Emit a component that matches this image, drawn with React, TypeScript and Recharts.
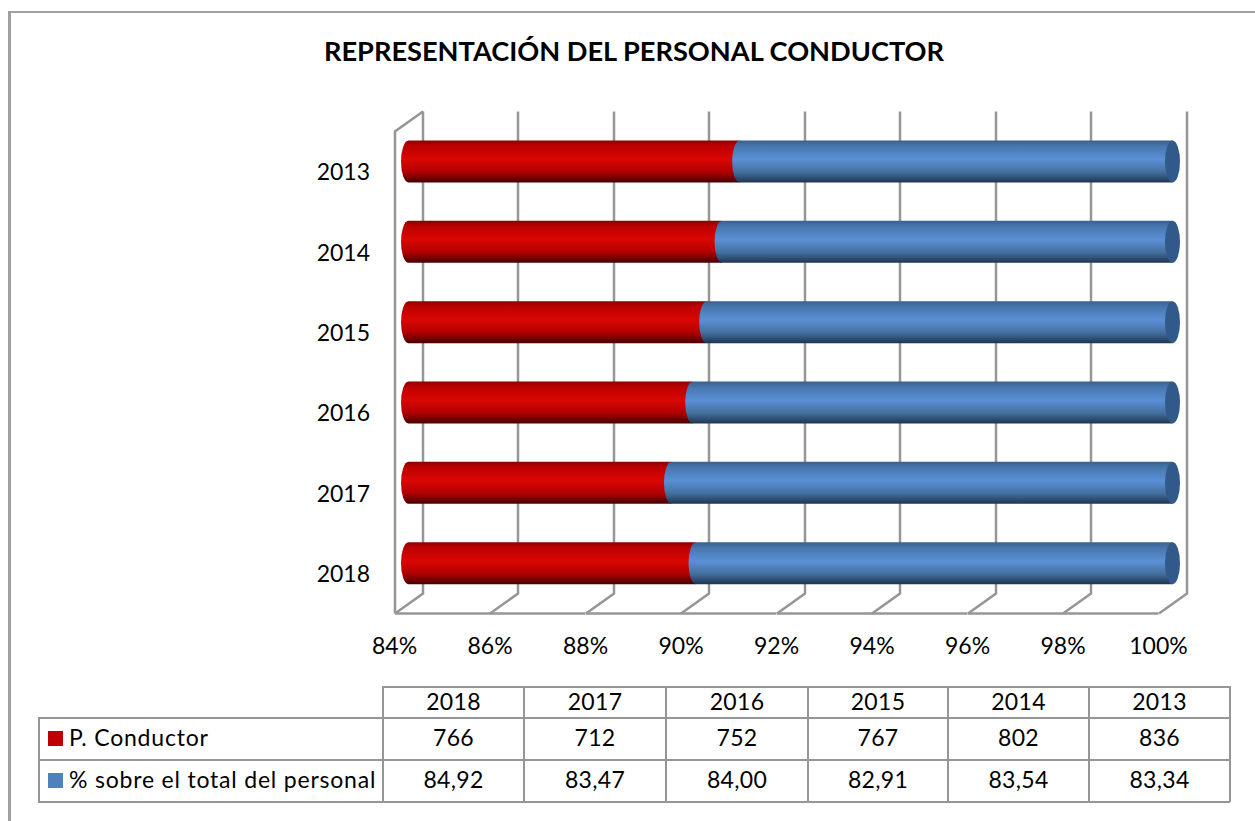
import { BarChart, Bar, XAxis, YAxis, CartesianGrid } from 'recharts'

const years = ['2018', '2017', '2016', '2015', '2014', '2013']
const conductor = [766, 712, 752, 767, 802, 836]
const percent = [84.92, 83.47, 84.0, 82.91, 83.54, 83.34]
const percentLabels = ['84,92', '83,47', '84,00', '82,91', '83,54', '83,34']
const xTicks = [0.84, 0.86, 0.88, 0.9, 0.92, 0.94, 0.96, 0.98, 1]

// the chart stacks both series to 100%, so each value goes in as its share
const data = years.map((year, i) => {
  const total = conductor[i] + percent[i]
  return { year, conductor: conductor[i] / total, percent: percent[i] / total }
})

const FONT = 'Lato, sans-serif'
const GRID = '#969696'
const DEPTH_X = 14
const DEPTH_Y = 10
const CAP = 7.5
const PLOT_LEFT = 400
const PLOT_RIGHT = 1181
const PAD = 8.5
const TICK_STEP = (PLOT_RIGHT - PLOT_LEFT - PAD * 2) / 8
// a little room past 84% and 100% so the cylinder ends are not clipped
const DOMAIN_PAD = (0.16 * PAD) / (PLOT_RIGHT - PLOT_LEFT - PAD * 2)

function GridLine(props: any) {
  const { x1, y1, y2 } = props
  const x = Math.round(x1)
  // the grid also draws the plot edges, which are not ticks here
  if (x < PLOT_LEFT + PAD - 1 || x > PLOT_RIGHT - PAD + 1) return <g key={props.key ?? x} />
  const isFirst = x <= PLOT_LEFT + PAD + 1
  const isLast = x >= PLOT_RIGHT - PAD - 1
  const common = { stroke: GRID, strokeWidth: 2.5, fill: 'none' }
  return (
    <g key={props.key ?? x}>
      {/* back wall line and the diagonal down to the floor */}
      <path d={`M${x + DEPTH_X},${y1 - DEPTH_Y} V${y2 - DEPTH_Y} L${x - DEPTH_X},${y2 + DEPTH_Y}`} {...common} />
      {!isLast && <path d={`M${x - DEPTH_X},${y2 + DEPTH_Y} h${TICK_STEP}`} {...common} />}
      {isFirst && (
        <path d={`M${x - DEPTH_X},${y2 + DEPTH_Y} V${y1 + DEPTH_Y} L${x + DEPTH_X},${y1 - DEPTH_Y}`} {...common} />
      )}
    </g>
  )
}

function XTick({ x, y, payload }: any) {
  return (
    <text x={x - DEPTH_X} y={y + 42} textAnchor="middle" fontFamily={FONT} fontSize={23} fill="#000">
      {Math.round(payload.value * 100)}%
    </text>
  )
}

function YTick({ y, payload }: any) {
  return (
    <text x={370} y={y + 18.5} textAnchor="end" fontFamily={FONT} fontSize={23} fill="#000">
      {payload.value}
    </text>
  )
}

function RedBar({ x, y, width, height }: any) {
  const left = Math.max(x, PLOT_LEFT + PAD)
  const right = x + width
  const ry = height / 2
  return (
    <path
      d={`M${left},${y} H${right} V${y + height} H${left} A${CAP},${ry} 0 0 1 ${left},${y} Z`}
      fill="url(#redCyl)"
    />
  )
}

function BlueBar({ x, y, width, height }: any) {
  const right = x + width
  const ry = height / 2
  return (
    <g>
      <path
        d={`M${x},${y} H${right} V${y + height} H${x} A${CAP},${ry} 0 0 1 ${x},${y} Z`}
        fill="url(#blueCyl)"
      />
      <ellipse cx={right} cy={y + ry} rx={CAP} ry={ry} fill="#315a8a" />
    </g>
  )
}

function DataTable() {
  const colX = [383, 524, 666, 808, 948, 1089, 1230]
  const rowY = [686, 718, 760, 802]
  const line = { position: 'absolute' as const, background: GRID }
  const cell = (left: number, top: number, w: number, h: number, text: string, key: string) => (
    <div
      key={key}
      style={{ position: 'absolute', left, top, width: w, height: h, lineHeight: `${h}px`, textAlign: 'center', fontSize: 23, letterSpacing: 0.3 }}
    >
      {text}
    </div>
  )
  return (
    <>
      {colX.map((x) => (
        <div key={x} style={{ ...line, left: x - 1, top: rowY[0], width: 2, height: rowY[3] - rowY[0] }} />
      ))}
      <div style={{ ...line, left: 38, top: rowY[1], width: 2, height: rowY[3] - rowY[1] }} />
      <div style={{ ...line, left: colX[0], top: rowY[0], width: colX[6] - colX[0], height: 2 }} />
      <div style={{ ...line, left: 38, top: rowY[1] - 1, width: colX[6] - 38, height: 2 }} />
      <div style={{ ...line, left: 38, top: rowY[2] - 1, width: colX[6] - 38, height: 2 }} />
      <div style={{ ...line, left: 38, top: rowY[3] - 1, width: colX[6] - 38, height: 2 }} />
      {years.map((year, i) => cell(colX[i], rowY[0], colX[i + 1] - colX[i], 30, year, `y${i}`))}
      {conductor.map((v, i) => cell(colX[i], rowY[1], colX[i + 1] - colX[i], 38, String(v), `c${i}`))}
      {percentLabels.map((v, i) => cell(colX[i], rowY[2], colX[i + 1] - colX[i], 38, v, `p${i}`))}
      <div style={{ position: 'absolute', left: 48, top: 731, width: 15, height: 15, background: '#c00000' }} />
      <div style={{ position: 'absolute', left: 48, top: 773, width: 15, height: 15, background: '#4f81bd' }} />
      <div style={{ position: 'absolute', left: 69, top: rowY[1], height: 38, lineHeight: '38px', fontSize: 23, letterSpacing: 0.8, whiteSpace: 'nowrap' }}>P. Conductor</div>
      <div style={{ position: 'absolute', left: 69, top: rowY[2], height: 38, lineHeight: '38px', fontSize: 23, letterSpacing: 0.8, whiteSpace: 'nowrap' }}>% sobre el total del personal</div>
    </>
  )
}

export default function App() {
  return (
    <div style={{ position: 'absolute', left: 0, top: 0, width: 1255, height: 821, fontFamily: FONT, color: '#000', background: '#fff', overflow: 'hidden' }}>
      <div style={{ position: 'absolute', left: 8, top: 11, width: 1247, height: 2, background: '#a0a0a0' }} />
      <div style={{ position: 'absolute', left: 8, top: 11, width: 3, height: 810, background: '#a0a0a0' }} />
      <div style={{ position: 'absolute', left: 0, width: 1268, top: 34, textAlign: 'center', fontSize: 27.2, fontWeight: 700 }}>
        REPRESENTACIÓN DEL PERSONAL CONDUCTOR
      </div>
      <div style={{ position: 'absolute', left: 0, top: 0 }}>
        <BarChart
          width={1255}
          height={821}
          data={data}
          layout="vertical"
          barSize={42}
          margin={{ top: 121.5, right: 74, bottom: 157.5, left: 0 }}
        >
          <defs>
            <linearGradient id="redCyl" x1="0" y1="0" x2="0" y2="1">
              <stop offset="0" stopColor="#8a0000" />
              <stop offset="0.12" stopColor="#bb0000" />
              <stop offset="0.45" stopColor="#da0703" />
              <stop offset="0.75" stopColor="#b00000" />
              <stop offset="1" stopColor="#470000" />
            </linearGradient>
            <linearGradient id="blueCyl" x1="0" y1="0" x2="0" y2="1">
              <stop offset="0" stopColor="#3a608e" />
              <stop offset="0.15" stopColor="#4878b0" />
              <stop offset="0.45" stopColor="#5b90d6" />
              <stop offset="0.75" stopColor="#44709f" />
              <stop offset="1" stopColor="#1e3553" />
            </linearGradient>
          </defs>
          <CartesianGrid horizontal={false} vertical={GridLine} />
          <XAxis
            type="number"
            domain={[0.84 - DOMAIN_PAD, 1 + DOMAIN_PAD]}
            ticks={xTicks}
            allowDataOverflow
            interval={0}
            height={60}
            axisLine={false}
            tickLine={false}
            tick={XTick}
          />
          <YAxis
            type="category"
            dataKey="year"
            reversed
            width={400}
            axisLine={false}
            tickLine={false}
            tick={YTick}
          />
          <Bar dataKey="conductor" stackId="a" isAnimationActive={false} shape={RedBar} />
          <Bar dataKey="percent" stackId="a" isAnimationActive={false} shape={BlueBar} />
        </BarChart>
      </div>
      <DataTable />
    </div>
  )
}
